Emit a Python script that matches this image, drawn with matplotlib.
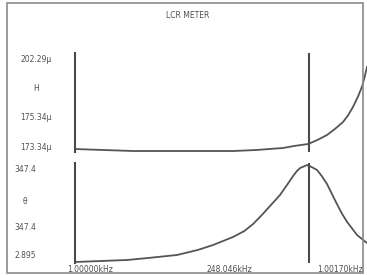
import matplotlib
matplotlib.use('Agg')
import matplotlib.pyplot as plt
from matplotlib.patches import Rectangle

# sweep position (0..100 across the screen)
lx = [0, 19.9, 37, 54.1, 62, 71.2, 75, 79.8, 83, 86.3, 89, 91.8, 93.5, 95.2,
      97, 98.3, 99.3, 100]
# inductance, uH
ls = [172.36, 171.71, 171.71, 171.71, 172.04, 172.69, 173.34, 173.99, 175.29,
      176.92, 178.87, 181.15, 183.3, 186.03, 189.6, 192.7, 196.2, 199.04]

tx = [0, 17.8, 25, 34.9, 42, 47.3, 54.1, 58, 61, 64, 66.8, 70.2, 72.6, 74.7,
      76, 77.1, 79.5, 81, 82.9, 84.5, 86.3, 88, 89.7, 91.5, 93.2, 96.6, 98.3, 100]
# phase trace, % of panel height
th = [1, 3, 5, 8, 13, 18, 26, 32, 39, 48, 57, 68, 78, 87,
      92, 95, 98, 96, 93, 87, 79, 69, 59, 49, 41, 28, 24, 20]

cursor = 80
top_labels = ['202.29µ', 'H', '175.34µ', '173.34µ']
bot_labels = ['347.4', 'θ', '347.4', '2.895']
x_labels = ['1.00000kHz', '248.046kHz', '1.00170kHz']

W, H = 367, 275
fig = plt.figure(figsize=(W / 100, H / 100), dpi=100)
fig.patch.set_facecolor('white')

# screen frame
fig.add_artist(Rectangle((7 / W, 1 - 273 / H), (363 - 7) / W, (273 - 3) / H,
                         transform=fig.transFigure, fill=False,
                         edgecolor='#8a8a8a', lw=1.2))

col = '#4a4a4a'


def make_ax(top, bottom):
    ax = fig.add_axes([75 / W, 1 - bottom / H, (367 - 75) / W, (bottom - top) / H])
    ax.set_xlim(0, 100)
    for s in ['top', 'right', 'bottom']:
        ax.spines[s].set_visible(False)
    ax.spines['left'].set_color(col)
    ax.spines['left'].set_linewidth(1.5)
    ax.set_xticks([])
    ax.set_yticks([])
    ax.patch.set_alpha(0)
    return ax


ax1 = make_ax(53, 152)
ax1.plot(lx, ls, color='#555555', lw=1.3)
ax1.set_ylim(171.39, 203.59)
ax1.axvline(cursor, color=col, lw=1.5)

ax2 = make_ax(163, 263)
ax2.plot(tx, th, color='#555555', lw=1.3)
ax2.set_ylim(0, 100)
ax2.axvline(cursor, color=col, lw=1.5)

tc = '#505050'
fs = 5.5
fig.text(188 / W, 1 - 16 / H, 'LCR METER', ha='center', va='center', fontsize=fs, color=tc)
for lab, y in zip(top_labels, [59, 88, 117, 147]):
    fig.text(36 / W, 1 - y / H, lab, ha='center', va='center', fontsize=fs, color=tc)
for lab, y in zip(bot_labels, [170, 202, 227, 256]):
    fig.text(25 / W, 1 - y / H, lab, ha='center', va='center', fontsize=fs, color=tc)
for lab, x, ha in zip(x_labels, [67, 229, 317], ['left', 'center', 'left']):
    fig.text(x / W, 1 - 269 / H, lab, ha=ha, va='center', fontsize=fs, color=tc)

fig.savefig('out.png', dpi=100)
